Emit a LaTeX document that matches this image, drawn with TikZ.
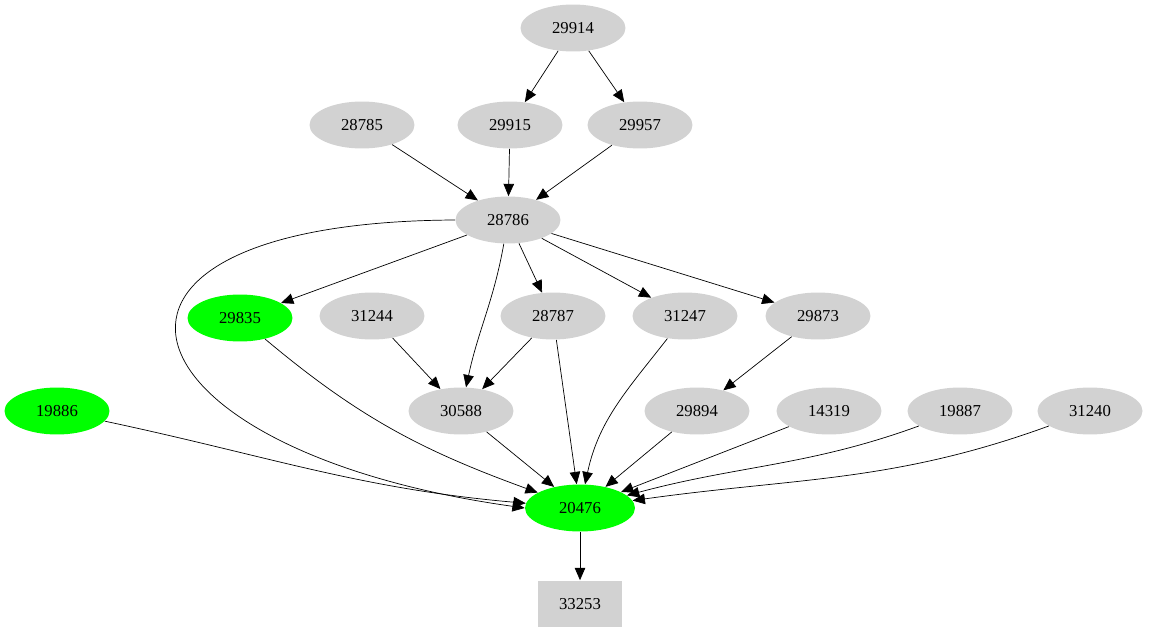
\documentclass[tikz,border=0pt]{standalone}
\usepackage{fontspec}
\setmainfont{Liberation Serif}
\usetikzlibrary{arrows.meta}
\tikzset{
  job/.style={ellipse, fill=gray!35, minimum width=2.1cm, minimum height=0.94cm, inner sep=0pt, font=\fontsize{9.5}{11}\selectfont},
  done/.style={job, fill=green},
  sink/.style={rectangle, fill=gray!35, minimum width=1.7cm, minimum height=0.94cm, inner sep=0pt, font=\fontsize{9.5}{11}\selectfont},
  dep/.style={-{Triangle[length=7pt,width=6pt]}, black}
}
\usetikzlibrary{shapes.geometric}
\begin{document}
\begin{tikzpicture}[x=0.02cm,y=-0.02cm]
  \useasboundingbox (0,0) rectangle (1150,635);
  % top layers
  \node[job]  (n29914) at (573,28)  {29914};
  \node[job]  (n28785) at (362,125) {28785};
  \node[job]  (n29915) at (510,125) {29915};
  \node[job]  (n29957) at (640,125) {29957};
  \node[job]  (n28786) at (508,220) {28786};
  % middle
  \node[done] (n29835) at (240,318) {29835};
  \node[job]  (n31244) at (372,316) {31244};
  \node[job]  (n28787) at (553,316) {28787};
  \node[job]  (n31247) at (685,316) {31247};
  \node[job]  (n29873) at (818,316) {29873};
  \node[done] (n19886) at (57,411)  {19886};
  \node[job]  (n30588) at (461,411) {30588};
  \node[job]  (n29894) at (697,411) {29894};
  \node[job]  (n14319) at (829,411) {14319};
  \node[job]  (n19887) at (960,411) {19887};
  \node[job]  (n31240) at (1090,411) {31240};
  % bottom
  \node[done, minimum width=2.2cm] (n20476) at (580,508) {20476};
  \node[sink] (n33253) at (580,604) {33253};

  \draw[dep] (n29914) -- (n29915);
  \draw[dep] (n29914) -- (n29957);
  \draw[dep] (n28785) -- (n28786);
  \draw[dep] (n29915) -- (n28786);
  \draw[dep] (n29957) -- (n28786);
  \draw[dep] (n28786) -- (n29835);
  \draw[dep] (n28786) to[out=-100,in=78] (n30588);
  \draw[dep] (n28786) -- (n28787);
  \draw[dep] (n28786) -- (n31247);
  \draw[dep] (n28786) -- (n29873);
  \draw[dep] (n28786.west) .. controls (40,222) and (110,450) .. (n20476.west);
  \draw[dep] (n31244) -- (n30588);
  \draw[dep] (n28787) -- (n30588);
  \draw[dep] (n28787) -- (n20476);
  \draw[dep] (n31247) to[out=-128,in=78] (n20476);
  \draw[dep] (n29873) -- (n29894);
  \draw[dep] (n29835) to[out=-40,in=160] (n20476);
  \draw[dep] (n19886) to[out=-12,in=175] (n20476);
  \draw[dep] (n30588) -- (n20476);
  \draw[dep] (n29894) -- (n20476);
  \draw[dep] (n14319) -- (n20476);
  \draw[dep] (n19887) to[out=-160,in=15] (n20476);
  \draw[dep] (n31240) to[out=-160,in=8] (n20476);
  \draw[dep] (n20476) -- (n33253);
\end{tikzpicture}
\end{document}
